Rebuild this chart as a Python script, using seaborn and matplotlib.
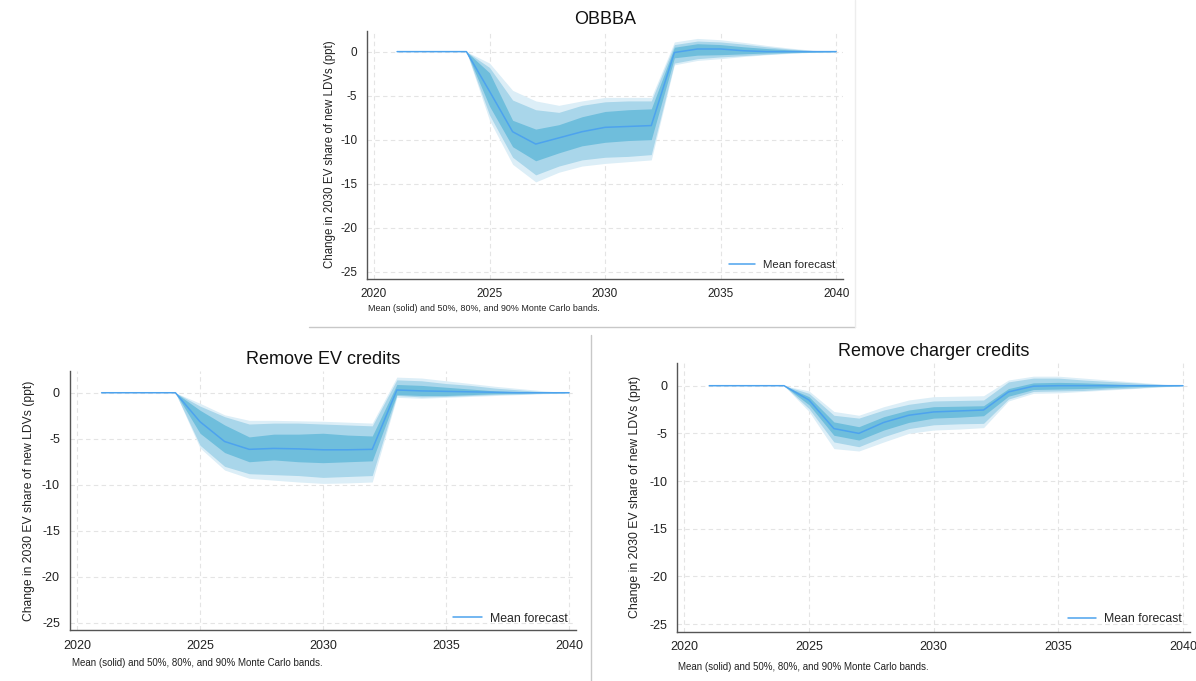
import matplotlib
matplotlib.use("Agg")
import matplotlib.pyplot as plt
from matplotlib.lines import Line2D
import seaborn as sns

years = [2021, 2022, 2023, 2024, 2025, 2026, 2027, 2028, 2029, 2030,
         2031, 2032, 2033, 2034, 2035, 2036, 2037, 2038, 2039, 2040]

# OBBBA
obbba_mean = [0, 0, 0, 0, -4.5, -9.1, -10.5, -9.8, -9.1, -8.6, -8.5, -8.4, -0.1, 0.3, 0.3, 0.1, 0, 0, 0, 0]
obbba_lo50 = [0, 0, 0, 0, -6.2, -10.8, -12.4, -11.5, -10.7, -10.3, -10.1, -10.0, -0.7, -0.4, -0.35, -0.25, -0.15, -0.1, -0.05, 0]
obbba_hi50 = [0, 0, 0, 0, -2.4, -7.8, -8.8, -8.3, -7.4, -6.8, -6.6, -6.5, 0.5, 0.9, 0.8, 0.55, 0.35, 0.2, 0.08, 0]
obbba_lo80 = [0, 0, 0, 0, -7.2, -12.0, -14.0, -13.0, -12.3, -12.0, -11.9, -11.7, -1.3, -0.8, -0.6, -0.45, -0.3, -0.15, -0.05, 0]
obbba_hi80 = [0, 0, 0, 0, -1.8, -5.5, -6.6, -6.9, -6.1, -5.7, -5.6, -5.6, 0.8, 1.2, 1.1, 0.85, 0.55, 0.3, 0.12, 0]
obbba_lo90 = [0, 0, 0, 0, -7.8, -12.8, -14.8, -13.7, -13.0, -12.7, -12.5, -12.3, -1.5, -1.0, -0.8, -0.55, -0.35, -0.2, -0.07, 0]
obbba_hi90 = [0, 0, 0, 0, -1.3, -4.4, -5.6, -6.1, -5.6, -5.2, -5.2, -5.2, 1.1, 1.5, 1.35, 1.05, 0.7, 0.4, 0.15, 0]

# Remove EV credits
ev_mean = [0, 0, 0, 0, -3.15, -5.3, -6.15, -6.05, -6.1, -6.2, -6.2, -6.15, 0.3, 0.2, 0.15, 0.1, 0.05, 0, 0, 0]
ev_lo50 = [0, 0, 0, 0, -4.4, -6.5, -7.5, -7.3, -7.5, -7.6, -7.5, -7.4, -0.2, -0.3, -0.3, -0.2, -0.1, -0.05, 0, 0]
ev_hi50 = [0, 0, 0, 0, -1.9, -3.5, -4.8, -4.5, -4.5, -4.4, -4.6, -4.7, 0.9, 0.8, 0.6, 0.4, 0.2, 0.1, 0.05, 0]
ev_lo80 = [0, 0, 0, 0, -5.7, -8.0, -8.8, -8.9, -9.0, -9.2, -9.1, -9.0, -0.3, -0.45, -0.4, -0.3, -0.2, -0.15, -0.05, 0]
ev_hi80 = [0, 0, 0, 0, -1.45, -2.6, -3.4, -3.3, -3.3, -3.4, -3.5, -3.6, 1.4, 1.3, 1.0, 0.8, 0.5, 0.3, 0.1, 0]
ev_lo90 = [0, 0, 0, 0, -6.0, -8.4, -9.3, -9.5, -9.7, -9.85, -9.8, -9.7, -0.5, -0.6, -0.5, -0.4, -0.3, -0.2, -0.1, 0]
ev_hi90 = [0, 0, 0, 0, -1.15, -2.4, -3.0, -3.0, -3.05, -3.1, -3.2, -3.3, 1.7, 1.6, 1.3, 1.0, 0.7, 0.45, 0.2, 0]

# Remove charger credits
ch_mean = [0, 0, 0, 0, -1.5, -4.5, -5.0, -3.85, -3.1, -2.75, -2.65, -2.55, -0.65, -0.05, 0, 0, 0, 0, 0, 0]
ch_lo50 = [0, 0, 0, 0, -2.0, -5.2, -5.7, -4.65, -3.85, -3.4, -3.3, -3.15, -1.1, -0.4, -0.35, -0.3, -0.2, -0.1, -0.05, 0]
ch_hi50 = [0, 0, 0, 0, -1.15, -3.8, -4.3, -3.25, -2.55, -2.2, -2.15, -2.1, -0.3, 0.3, 0.35, 0.3, 0.2, 0.1, 0.05, 0]
ch_lo80 = [0, 0, 0, 0, -2.4, -5.9, -6.4, -5.35, -4.5, -4.1, -4.0, -3.95, -1.4, -0.6, -0.55, -0.5, -0.35, -0.25, -0.1, 0]
ch_hi80 = [0, 0, 0, 0, -0.8, -3.1, -3.4, -2.55, -1.95, -1.6, -1.55, -1.5, 0.4, 0.8, 0.8, 0.6, 0.45, 0.3, 0.15, 0]
ch_lo90 = [0, 0, 0, 0, -2.7, -6.6, -6.85, -5.9, -5.0, -4.65, -4.55, -4.4, -1.6, -0.8, -0.75, -0.6, -0.45, -0.3, -0.15, 0]
ch_hi90 = [0, 0, 0, 0, -0.55, -2.7, -3.1, -2.2, -1.5, -1.15, -1.1, -1.05, 0.6, 1.0, 1.0, 0.8, 0.6, 0.4, 0.2, 0]

x_ticks = [2020, 2025, 2030, 2035, 2040]
y_ticks = [0, -5, -10, -15, -20, -25]
y_label = "Change in 2030 EV share of new LDVs (ppt)"
note = "Mean (solid) and 50%, 80%, and 90% Monte Carlo bands."

sns.set_style("white")
plt.rcParams["font.family"] = ["Liberation Sans", "DejaVu Sans"]
plt.rcParams["axes.unicode_minus"] = False

C90, C80, C50 = "#dceef7", "#a9d6ea", "#6fbedc"
LINE = "#4da3ee"


def draw_panel(ax, title, mean, lo50, hi50, lo80, hi80, lo90, hi90,
               fs_tick, fs_lab, fs_leg, ylab_x, leg_y):
    ax.fill_between(years, lo90, hi90, color=C90, lw=0)
    ax.fill_between(years, lo80, hi80, color=C80, lw=0)
    ax.fill_between(years, lo50, hi50, color=C50, lw=0)
    sns.lineplot(x=years, y=mean, ax=ax, color=LINE, lw=1.1, label="Mean forecast")

    ax.set_xlim(2019.7, 2040.3)
    ax.set_ylim(-25.8, 2.4)
    ax.set_xticks(x_ticks)
    ax.set_yticks(y_ticks)
    ax.grid(True, color="#e4e4e4", linestyle=(0, (4, 3)), lw=0.8)
    ax.set_axisbelow(True)
    for s in ["top", "right"]:
        ax.spines[s].set_visible(False)
    for s in ["left", "bottom"]:
        ax.spines[s].set_color("#555555")
        ax.spines[s].set_linewidth(1.0)
    ax.tick_params(axis="both", direction="out", length=4, width=0.8, color="#666666",
                   labelsize=fs_tick, labelcolor="#222222", pad=3)
    ax.set_title(title, fontsize=13, pad=5, color="#111111")
    ax.set_ylabel(y_label, fontsize=fs_lab, color="#222222")
    ax.yaxis.set_label_coords(ylab_x, 0.5)
    ax.set_xlabel("")
    ax.legend(loc="lower right", bbox_to_anchor=(1.0, leg_y), frameon=False,
              fontsize=fs_leg, handlelength=2.3, handletextpad=0.7, borderaxespad=0.3)


fig = plt.figure(figsize=(11.96, 6.81), dpi=100)

ax_top = fig.add_axes([0.3069, 0.5907, 0.398, 0.3645])
draw_panel(ax_top, "OBBBA", obbba_mean, obbba_lo50, obbba_hi50, obbba_lo80, obbba_hi80,
           obbba_lo90, obbba_hi90, 8.5, 8.3, 8.2, -0.066, 0.005)

ax_ev = fig.add_axes([0.0582, 0.0747, 0.4238, 0.381])
draw_panel(ax_ev, "Remove EV credits", ev_mean, ev_lo50, ev_hi50, ev_lo80, ev_hi80,
           ev_lo90, ev_hi90, 9, 8.7, 8.8, -0.068, -0.012)

ax_ch = fig.add_axes([0.5659, 0.0725, 0.4295, 0.3947])
draw_panel(ax_ch, "Remove charger credits", ch_mean, ch_lo50, ch_hi50, ch_lo80, ch_hi80,
           ch_lo90, ch_hi90, 9, 8.8, 8.8, -0.070, -0.008)

fig.text(0.3077, 0.5463, note, fontsize=6.4, va="center", color="#222222")
fig.text(0.0602, 0.0264, note, fontsize=7, va="center", color="#222222")
fig.text(0.5669, 0.0206, note, fontsize=7, va="center", color="#222222")

# panel separators
fig.add_artist(Line2D([0.2584, 0.7149], [0.5198, 0.5198], transform=fig.transFigure,
                      color="#c8c8c8", lw=1))
fig.add_artist(Line2D([0.7149, 0.7149], [0.5198, 1.0], transform=fig.transFigure,
                      color="#ededed", lw=1))
fig.add_artist(Line2D([0.4941, 0.4941], [0.0, 0.5081], transform=fig.transFigure,
                      color="#c8c8c8", lw=1))

fig.savefig("out.png", dpi=100)
